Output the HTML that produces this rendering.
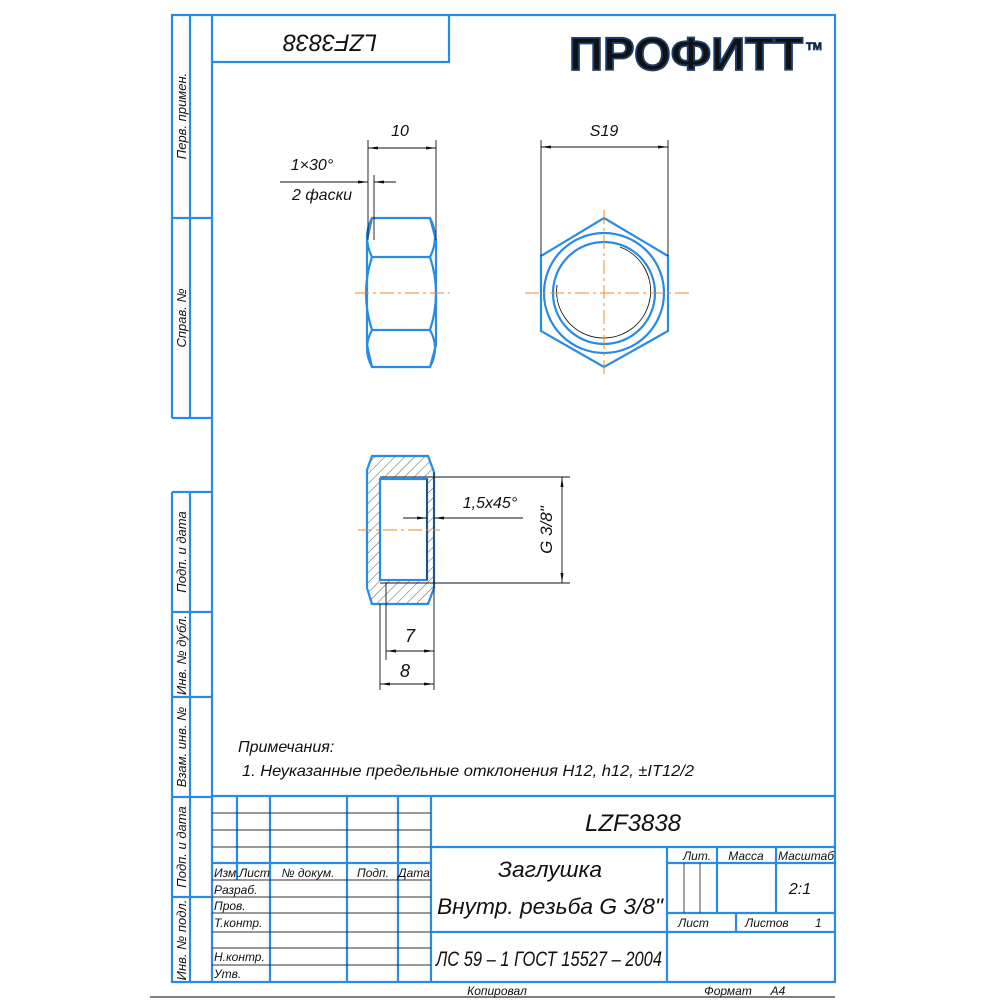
<!DOCTYPE html>
<html><head><meta charset="utf-8"><style>
html,body{margin:0;padding:0;background:#fff;}
svg{display:block;}
text{font-family:"Liberation Sans",sans-serif;font-style:italic;fill:#111;}
</style></head><body>
<svg width="1000" height="1000" viewBox="0 0 1000 1000" xmlns="http://www.w3.org/2000/svg">
<defs>
<pattern id="h" width="7" height="7" patternUnits="userSpaceOnUse" patternTransform="rotate(45)">
<line x1="0" y1="0" x2="0" y2="7" stroke="#333" stroke-width="0.8"/>
</pattern>
<marker id="a" viewBox="0 0 10 6" refX="10" refY="3" markerWidth="10" markerHeight="6" orient="auto-start-reverse" markerUnits="userSpaceOnUse">
<path d="M0,1.5 L10,3 L0,4.5 Z" fill="#111"/>
</marker>
</defs>
<g stroke="#2a8be6" stroke-width="2.2" fill="none">
<polyline points="172,418 172,15 835,15 835,982 172,982 172,492"/>
<line x1="172" y1="418" x2="212" y2="418"/>
<line x1="172" y1="492" x2="212" y2="492"/>
<line x1="212" y1="15" x2="212" y2="982"/>
<line x1="190" y1="15" x2="190" y2="418"/>
<line x1="172" y1="218" x2="212" y2="218"/>
<line x1="190" y1="492" x2="190" y2="982"/>
<line x1="172" y1="612" x2="212" y2="612"/>
<line x1="172" y1="697" x2="212" y2="697"/>
<line x1="172" y1="797" x2="212" y2="797"/>
<line x1="172" y1="897" x2="212" y2="897"/>
<polyline points="212,62 449,62 449,15"/>
<line x1="212" y1="796" x2="835" y2="796"/>
<line x1="431" y1="847" x2="835" y2="847"/>
<line x1="212" y1="863" x2="431" y2="863"/>
<line x1="667" y1="863" x2="835" y2="863"/>
<line x1="667" y1="913" x2="835" y2="913"/>
<line x1="431" y1="932" x2="835" y2="932"/>
<line x1="237" y1="796" x2="237" y2="880"/>
<line x1="270" y1="796" x2="270" y2="982"/>
<line x1="347" y1="796" x2="347" y2="982"/>
<line x1="398" y1="796" x2="398" y2="982"/>
<line x1="431" y1="796" x2="431" y2="982"/>
<line x1="667" y1="847" x2="667" y2="982"/>
<line x1="717" y1="847" x2="717" y2="913"/>
<line x1="776" y1="847" x2="776" y2="913"/>
<line x1="736" y1="913" x2="736" y2="932"/>
<polygon points="372,218 430,218 436,240 436,345 430,367 372,367 367,345 367,240"/>
<line x1="372" y1="257" x2="430" y2="257"/>
<line x1="372" y1="330" x2="430" y2="330"/>
<path d="M372,218 Q362,237 372,257 M430,218 Q440,237 430,257 M372,257 Q360,293 372,330 M430,257 Q442,293 430,330 M372,330 Q362,348 372,367 M430,330 Q440,348 430,367"/>
<polygon points="604,218 668,256 668,331 604,367 541,331 541,256"/>
<circle cx="604" cy="293" r="60"/>
<circle cx="604" cy="293" r="51"/>
<path d="M372,456 L428,456 L434,472 L434,588 L428,604 L372,604 L367,588 L367,470 Z" fill="url(#h)"/>
<rect x="380" y="479" width="47" height="101" fill="#fff"/>
</g>
<g stroke="#111" stroke-width="0.9" fill="none">
<path d="M620,247 A47,47 0 1 1 557,285"/>
<line x1="380" y1="477" x2="434" y2="477"/><line x1="380" y1="583" x2="434" y2="583"/>
<line x1="434" y1="472" x2="434" y2="690"/>
<line x1="368" y1="140" x2="368" y2="240"/><line x1="436" y1="140" x2="436" y2="240"/>
<line x1="368" y1="148" x2="436" y2="148" marker-start="url(#a)" marker-end="url(#a)"/>
<line x1="541" y1="140" x2="541" y2="256"/><line x1="668" y1="140" x2="668" y2="256"/>
<line x1="541" y1="147" x2="668" y2="147" marker-start="url(#a)" marker-end="url(#a)"/>
<line x1="374" y1="175" x2="374" y2="240"/>
<line x1="280" y1="182" x2="368" y2="182" marker-end="url(#a)"/>
<line x1="396" y1="182" x2="374" y2="182" marker-end="url(#a)"/>
<line x1="434" y1="477" x2="570" y2="477"/><line x1="434" y1="583" x2="570" y2="583"/>
<line x1="562" y1="477" x2="562" y2="583" marker-start="url(#a)" marker-end="url(#a)"/>
<line x1="403" y1="518" x2="427" y2="518" marker-end="url(#a)"/>
<line x1="523" y1="518" x2="434" y2="518" marker-end="url(#a)"/>
<line x1="427" y1="479" x2="427" y2="580"/>
<line x1="386" y1="583" x2="386" y2="660"/><line x1="380" y1="604" x2="380" y2="690"/>
<line x1="386" y1="651" x2="434" y2="651" marker-start="url(#a)" marker-end="url(#a)"/>
<line x1="380" y1="684" x2="434" y2="684" marker-start="url(#a)" marker-end="url(#a)"/>
<g stroke="#333">
<line x1="212" y1="813" x2="431" y2="813"/><line x1="212" y1="830" x2="431" y2="830"/><line x1="212" y1="847" x2="431" y2="847"/>
<line x1="212" y1="880" x2="431" y2="880"/><line x1="212" y1="897" x2="431" y2="897"/><line x1="212" y1="913" x2="431" y2="913"/>
<line x1="212" y1="932" x2="431" y2="932"/><line x1="212" y1="948" x2="431" y2="948"/><line x1="212" y1="965" x2="431" y2="965"/>
<line x1="684" y1="863" x2="684" y2="913"/><line x1="700" y1="863" x2="700" y2="913"/>
</g>
<line x1="150" y1="997" x2="835" y2="997" stroke="#555" stroke-width="1.5"/>
</g>
<g stroke="#f08a24" stroke-width="1" stroke-dasharray="14,4,3,4" fill="none">
<line x1="355" y1="293" x2="450" y2="293"/>
<line x1="525" y1="293" x2="690" y2="293"/>
<line x1="604" y1="210" x2="604" y2="378"/>
<line x1="358" y1="530" x2="440" y2="530"/>
</g>
<text x="569" y="70" font-size="46" font-weight="bold" style="font-style:normal" fill="#fff" stroke="#1b3f6e" stroke-width="1.8" textLength="234" lengthAdjust="spacingAndGlyphs">ПРОФИТТ</text>
<text x="806" y="50" font-size="11" font-weight="bold" style="font-style:normal" fill="#fff" stroke="#1b3f6e" stroke-width="0.8">TM</text>
<text transform="translate(330,41) rotate(180)" font-size="24" text-anchor="middle" textLength="94" lengthAdjust="spacingAndGlyphs" dominant-baseline="middle">LZF3838</text>
<text x="400" y="136" font-size="16" text-anchor="middle">10</text>
<text x="604" y="136" font-size="16" text-anchor="middle">S19</text>
<text x="312" y="170" font-size="16" text-anchor="middle">1×30°</text>
<text x="322" y="200" font-size="16" text-anchor="middle">2 фаски</text>
<text x="490" y="508" font-size="16" text-anchor="middle">1,5x45°</text>
<text transform="translate(552,530) rotate(-90)" font-size="17" text-anchor="middle">G 3/8"</text>
<text x="410" y="642" font-size="18" text-anchor="middle">7</text>
<text x="405" y="677" font-size="18" text-anchor="middle">8</text>
<text x="238" y="752" font-size="16">Примечания:</text>
<text x="242" y="776" font-size="16" textLength="452" lengthAdjust="spacingAndGlyphs">1. Неуказанные предельные отклонения H12, h12, ±IT12/2</text>
<g font-size="13" text-anchor="middle">
<text transform="translate(186,116) rotate(-90)">Перв. примен.</text>
<text transform="translate(186,318) rotate(-90)">Справ. №</text>
<text transform="translate(186,552) rotate(-90)">Подп. и дата</text>
<text transform="translate(186,655) rotate(-90)">Инв. № дубл.</text>
<text transform="translate(186,747) rotate(-90)">Взам. инв. №</text>
<text transform="translate(186,847) rotate(-90)">Подп. и дата</text>
<text transform="translate(186,940) rotate(-90)">Инв. № подл.</text>
</g>
<text x="633" y="831" font-size="24" text-anchor="middle">LZF3838</text>
<text x="550" y="877" font-size="22" text-anchor="middle" textLength="104" lengthAdjust="spacingAndGlyphs">Заглушка</text>
<text x="550" y="914" font-size="22" text-anchor="middle" textLength="226" lengthAdjust="spacingAndGlyphs">Внутр. резьба G 3/8"</text>
<text x="549" y="966" font-size="21" text-anchor="middle" textLength="226" lengthAdjust="spacingAndGlyphs">ЛС 59 – 1 ГОСТ 15527 – 2004</text>
<g font-size="12">
<text x="697" y="860" text-anchor="middle">Лит.</text>
<text x="746" y="860" text-anchor="middle">Масса</text>
<text x="806" y="860" text-anchor="middle">Масштаб</text>
<text x="800" y="894" font-size="16" text-anchor="middle">2:1</text>
<text x="678" y="927">Лист</text>
<text x="745" y="927">Листов</text>
<text x="815" y="927">1</text>
<text x="214" y="877">Изм.</text><text x="239" y="877">Лист</text>
<text x="308" y="877" text-anchor="middle">№ докум.</text>
<text x="373" y="877" text-anchor="middle">Подп.</text>
<text x="414" y="877" text-anchor="middle">Дата</text>
<text x="214" y="894">Разраб.</text>
<text x="214" y="910">Пров.</text>
<text x="214" y="927">Т.контр.</text>
<text x="214" y="961">Н.контр.</text>
<text x="214" y="978">Утв.</text>
<text x="497" y="995" text-anchor="middle">Копировал</text>
<text x="728" y="995" text-anchor="middle">Формат</text>
<text x="778" y="995" text-anchor="middle">A4</text>
</g>
</svg>
</body></html>
